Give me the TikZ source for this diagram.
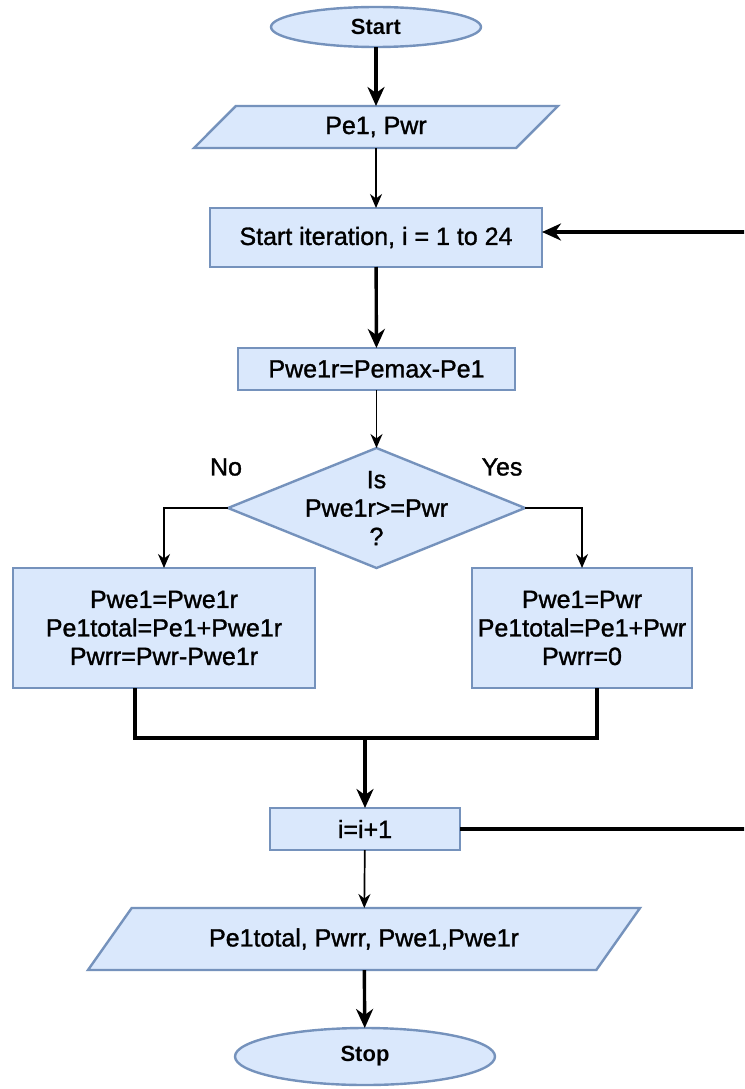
\documentclass[tikz,border=0pt]{standalone}
\usepackage{fontspec}
\setmainfont{Liberation Sans}
\newfontfamily\txfont[FakeBold=1.2]{Liberation Sans}
\usetikzlibrary{shapes.geometric,arrows.meta}
\definecolor{fillc}{HTML}{DAE8FC}
\definecolor{bord}{HTML}{7592BC}
\newcommand{\tx}{\txfont\fontsize{25}{28.5}\selectfont}
\tikzset{
  shp/.style={draw=bord, fill=fillc, line width=2.4pt, inner sep=0pt, outer sep=0pt, align=center, font=\tx},
  box/.style={shp, rectangle},
  term/.style={shp, ellipse},
  io/.style={shp, trapezium, trapezium left angle=26, trapezium right angle=154, trapezium stretches body},
  decide/.style={shp, diamond},
  thk/.style={line width=3.4pt, draw=black},
  thn/.style={line width=1.7pt, draw=black},
  tipb/.style={-{Stealth[length=19pt,width=17pt,inset=6pt]}},
  tips/.style={-{Stealth[length=14pt,width=12pt,inset=4.5pt]}},
  lbl/.style={font=\tx, inner sep=0pt}
}
\begin{document}
\begin{tikzpicture}[x=1pt,y=-1pt]
\useasboundingbox (0,0) rectangle (744,1089);
\clip (0,0) rectangle (744,1089);
\fill[white] (0,0) rectangle (744,1089);

\node[term, minimum width=210, minimum height=40, font={\fontsize{22}{26}\selectfont\bfseries}] (start) at (376,27) {Start};
\node[io, minimum width=364, minimum height=42] (in) at (376,127) {Pe1, Pwr};
\node[box, minimum width=332, minimum height=59] (iter) at (376,237.5) {Start iteration, i = 1 to 24};
\node[box, minimum width=277, minimum height=42] (calc) at (376.5,369) {Pwe1r=Pemax-Pe1};
\node[decide, minimum width=297, minimum height=120, label={[lbl, align=center]center:Is\\Pwe1r>=Pwr\\?}] (dec) at (376.5,508) {};
\node[lbl] (no) at (226,467) {No};
\node[lbl] (yes) at (502,467) {Yes};
\node[box, minimum width=302, minimum height=120] (lb) at (164,628) {Pwe1=Pwe1r\\Pe1total=Pe1+Pwe1r\\Pwrr=Pwr-Pwe1r};
\node[box, minimum width=220, minimum height=120] (rb) at (582,628) {Pwe1=Pwr\\Pe1total=Pe1+Pwr\\Pwrr=0};
\node[box, minimum width=190, minimum height=42] (inc) at (365,829) {i=i+1};
\node[io, minimum width=552, minimum height=62] (out) at (364,939) {Pe1total, Pwrr, Pwe1,Pwe1r};
\node[term, minimum width=260, minimum height=57, font={\fontsize{22}{26}\selectfont\bfseries}] (stop) at (365,1056.5) {Stop};

\coordinate (m) at (365,738);
\coordinate (r1) at (770,829);
\coordinate (r2) at (770,232);

\draw[thk, tipb] (start) -- (in);
\draw[thn, tips] (in) -- (iter);
\draw[thk, tipb] (iter) -- (calc);
\draw[thn, tips] (calc) -- (dec);
\draw[thn, tips] (dec.west) -| (lb.north);
\draw[thn, tips] (dec.east) -| (rb.north);
\draw[thk] ([xshift=-29pt]lb.south) |- (m) -| ([xshift=15pt]rb.south);
\draw[thk, tipb] (m) -- (inc.north);
\draw[thn, tips] (inc) -- (out);
\draw[thk, tipb] (out) -- (stop);
\draw[thk, tipb] (inc.east) -- (r1) -- (r2) -- (iter.east |- r2);
\end{tikzpicture}
\end{document}
